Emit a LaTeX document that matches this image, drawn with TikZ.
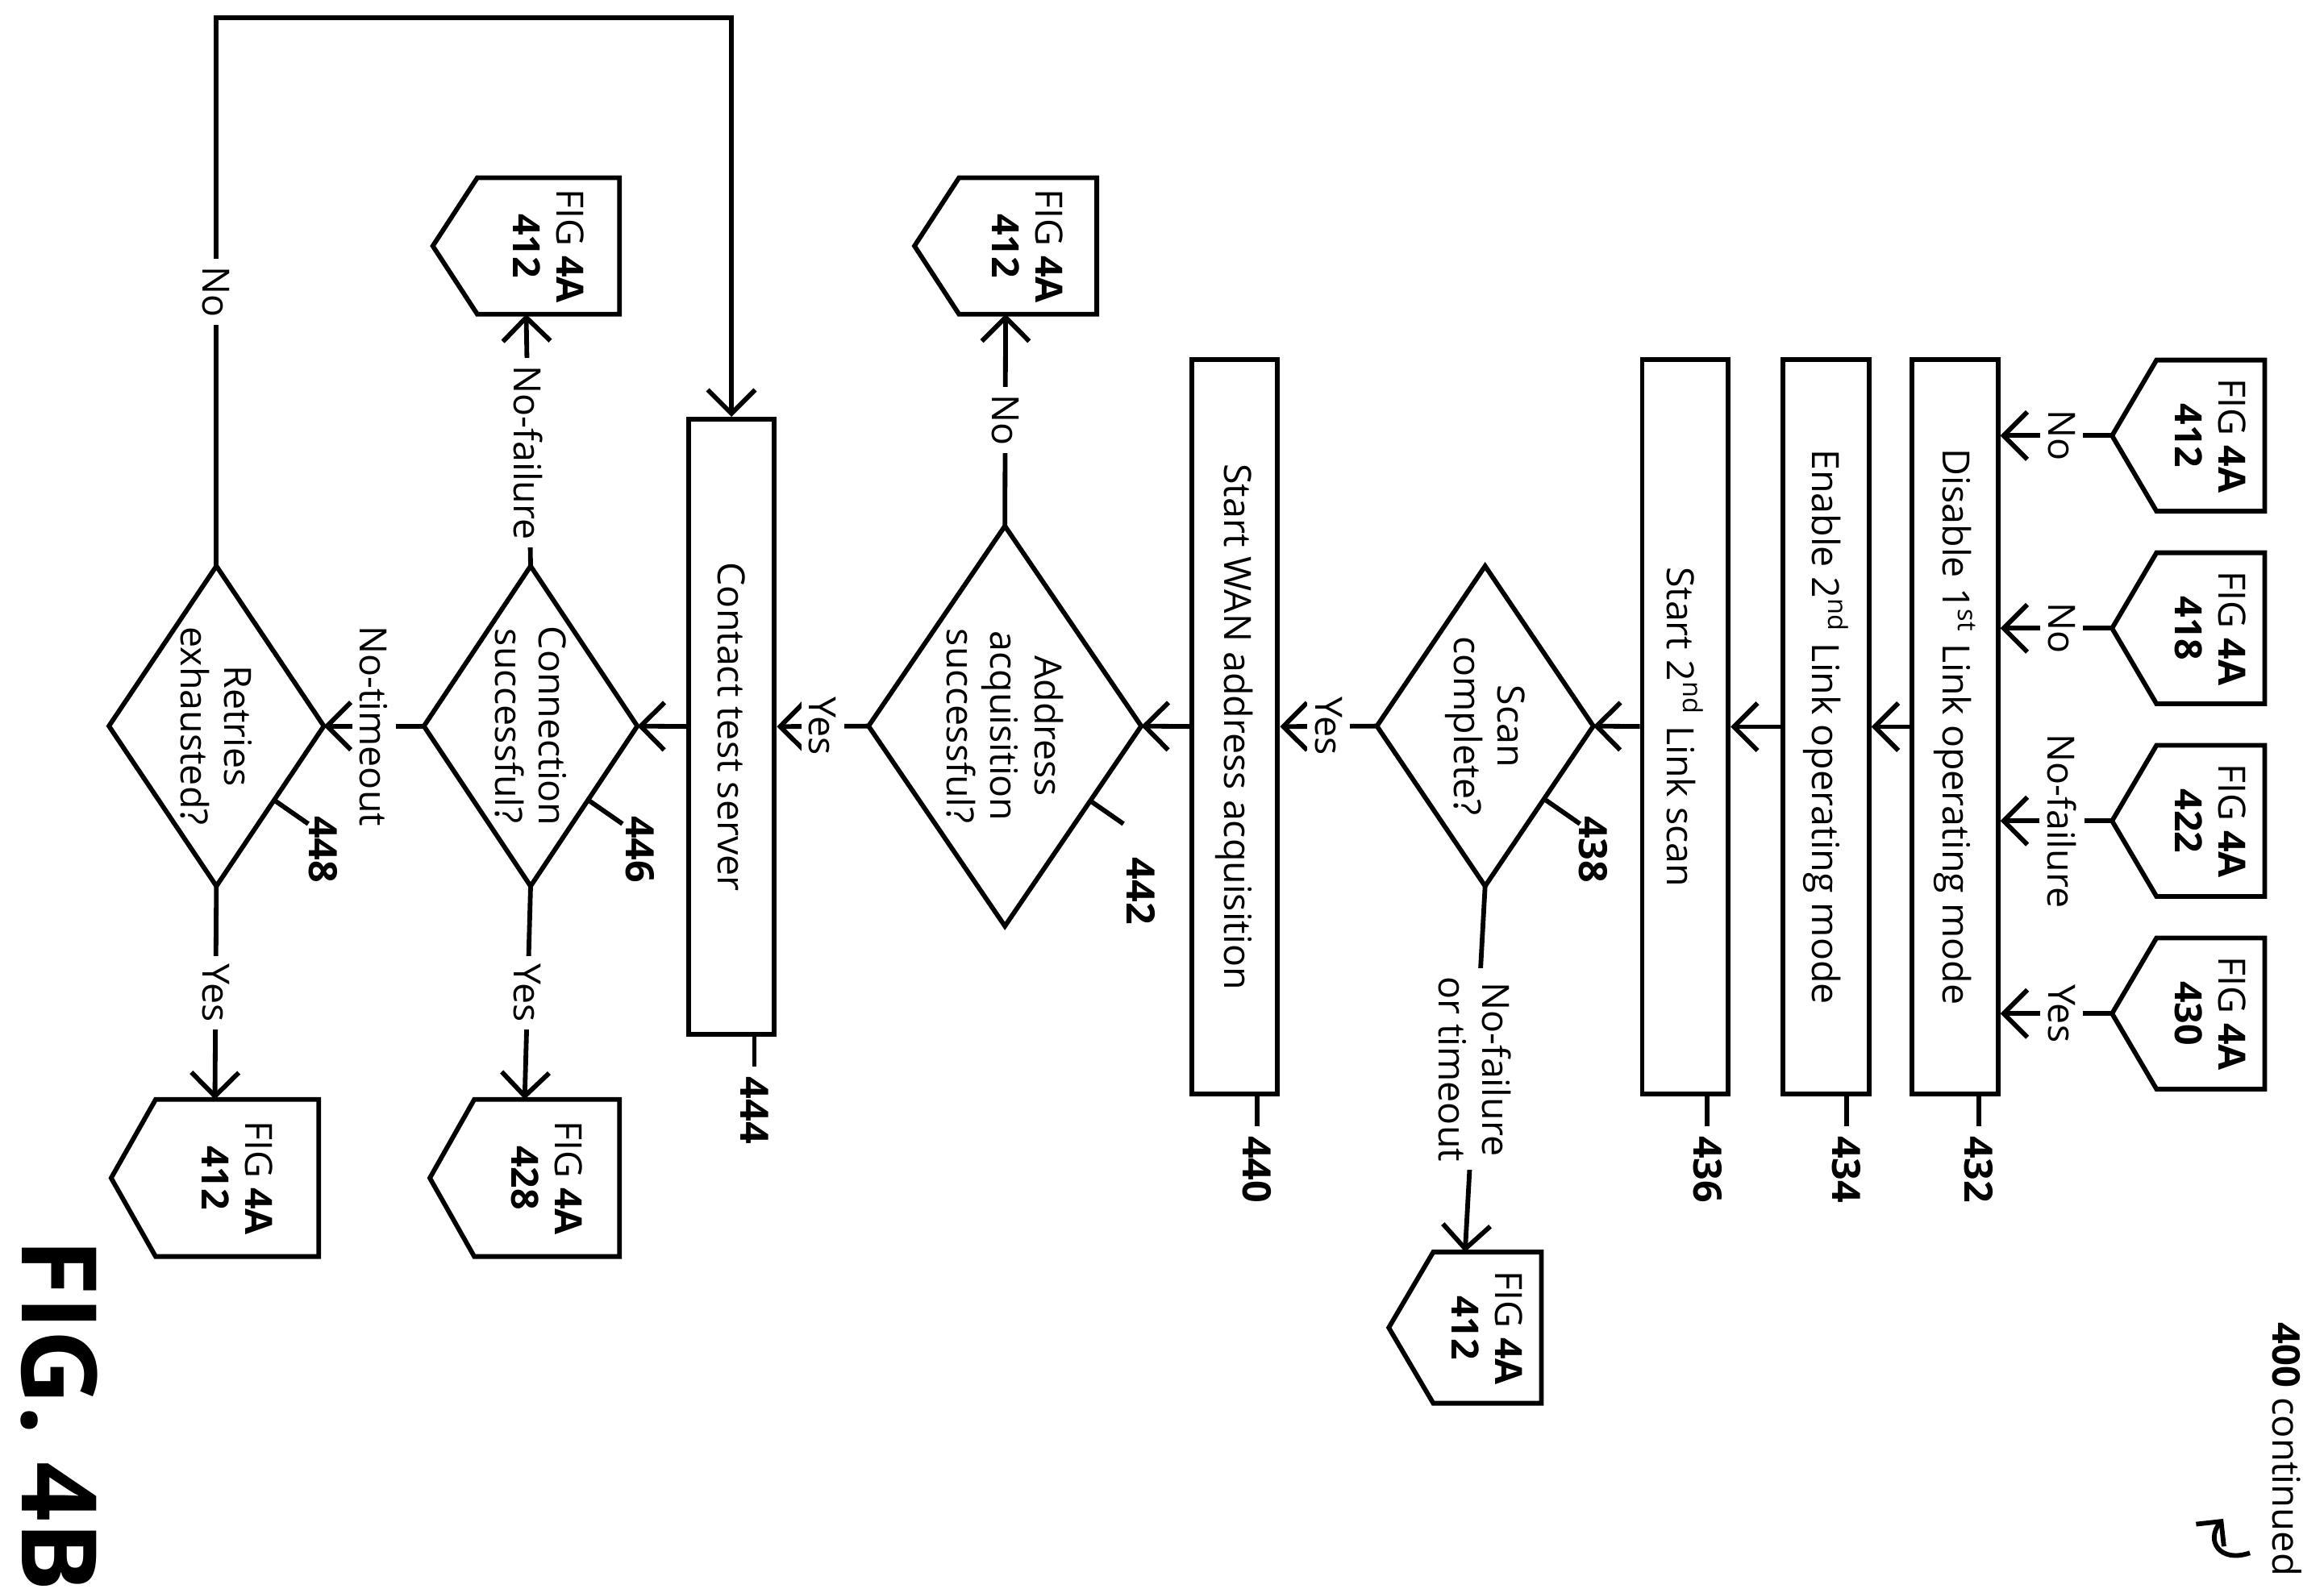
\documentclass[tikz,border=0pt]{standalone}
\usepackage{fontspec}
\setmainfont{Open Sans}
\usetikzlibrary{shapes.geometric,arrows.meta}
\begin{document}
\begin{tikzpicture}[x=0.01cm,y=-0.01cm,
  every node/.style={font=\fontsize{7.2}{8.4}\selectfont},
  line/.style={line width=0.9pt},
  arr/.style={line,-{Straight Barb[length=1.6mm,width=3.2mm]}},
  conn/.style={line},
  rot/.style={rotate=-90,align=center},
  box/.style={line,draw,rot,inner sep=0pt,minimum height=0.58cm},
  dia/.style={line,draw,diamond,rot,inner sep=0pt,outer sep=0pt},
  lbl/.style={rot,fill=white,inner sep=1.5pt},
  ref/.style={rot,anchor=west,font=\fontsize{7.5}{9}\selectfont\bfseries,inner sep=0pt}]
\useasboundingbox (0,0) rectangle (1568,1075);
\newcommand\offL[6]{% name num tipx cy length halfh (points left)
  \draw[conn] (#3,#4) -- ++(30,-#6) -- ++({#5-30},0) -- ++(0,{2*#6}) -- ++({30-#5},0) -- cycle;
  \node[rot] at ({#3+30+(#5-30)/2},#4) {FIG \textbf{4A}\\\textbf{#2}};
  \coordinate (#1) at (#3,#4);
  \coordinate (#1t) at ({#3+#5/2},{#4-#6});
  \coordinate (#1b) at ({#3+#5/2},{#4+#6});}
\newcommand\dianode[6]{% name x y fullw(x) fullh(y) text
  \node[dia,minimum width=#5*0.01cm,minimum height=#4*0.01cm] (#1) at (#2,#3) {};
  \node[rot] at (#2,#3) {#6};}

% off-page inputs
\offL{ca}{412}{1425}{294}{103}{51}
\offL{cb}{418}{1425}{424}{103}{51}
\offL{cc}{422}{1425}{554}{103}{51}
\offL{cd}{430}{1425}{684}{103}{51}

% boxes
\node[box,minimum width=4.95cm] (b432) at (1319,490.5) {Disable 1\textsuperscript{st} Link operating mode};
\node[box,minimum width=4.95cm] (b434) at (1232,490.5) {Enable 2\textsuperscript{nd} Link operating mode};
\node[box,minimum width=4.95cm] (b436) at (1137,490.5) {Start 2\textsuperscript{nd} Link scan};
\dianode{d438}{1002}{490}{146}{216}{Scan\\complete?}
\node[box,minimum width=4.95cm] (b440) at (833,490.5) {Start WAN address acquisition};
\dianode{d442}{678}{490}{184}{270}{Address\\acquisition\\successful?}
\node[box,minimum width=4.15cm] (b444) at (493.5,490.5) {Contact test server};
\dianode{d446}{358}{490}{144}{216}{Connection\\successful?}
\dianode{d448}{146}{490}{145}{216}{Retries\\exhausted?}

% inputs to 432
\draw[arr] (ca) -- (ca -| b432.north) node[lbl,pos=0.45] {No};
\draw[arr] (cb) -- (cb -| b432.north) node[lbl,pos=0.45] {No};
\draw[arr] (cc) -- (cc -| b432.north) node[lbl,pos=0.45] {No-failure};
\draw[arr] (cd) -- (cd -| b432.north) node[lbl,pos=0.45] {Yes};

\draw[arr] (b432) -- (b434);
\draw[arr] (b434) -- (b436);
\draw[arr] (b436) -- (d438.north);
\draw[arr] (d438.south) -- (b440) node[lbl,midway] {Yes};
\offL{c438}{412}{937}{896}{103}{51}
\draw[arr] (d438.east) -- (c438t) node[lbl,midway] {No-failure\\or timeout};
\draw[arr] (b440) -- (d442.north);
\offL{c442}{412}{617}{166}{123}{46}
\draw[arr] (d442.west) -- (c442b) node[lbl,midway] {No};
\draw[arr] (d442.south) -- (b444) node[lbl,midway] {Yes};
\draw[arr] (b444) -- (d446.north);
\offL{c446a}{412}{292}{166}{126}{46}
\draw[arr] (d446.west) -- (c446ab) node[lbl,pos=0.45] {No-failure};
\offL{c446b}{428}{290}{795}{128}{53}
\draw[arr] (d446.east) -- (c446bt) node[lbl,midway] {Yes};
\draw[arr] (d446.south) -- (d448.north) node[lbl,midway] {No-timeout};
\offL{c448}{412}{75}{795}{140}{53}
\draw[arr] (d448.east) -- (c448t) node[lbl,midway] {Yes};
\coordinate (loop) at (146,12);
\draw[arr] (d448.west) -- (loop) node[lbl,pos=0.5] {No} -| (b444.west);

% reference numerals
\draw[line] (1335,738) -- (1335,760); \node[ref] at (1335,766) {432};
\draw[line] (1246,738) -- (1246,760); \node[ref] at (1246,766) {434};
\draw[line] (1152,738) -- (1152,760); \node[ref] at (1152,766) {436};
\draw[line] (848,738) -- (848,760);   \node[ref] at (848,766) {440};
\draw[line] (509,698) -- (509,720);   \node[ref] at (509,726) {444};
\draw[line] (1043,540) -- (1066,556); \node[ref] at (1075,550) {438};
\draw[line] (735,540) -- (758,556);   \node[ref] at (770,578) {442};
\draw[line] (397,540) -- (420,556);   \node[ref] at (432,550) {446};
\draw[line] (185,540) -- (208,556);   \node[ref] at (218,550) {448};

\node[rot,anchor=west,font=\fontsize{7.3}{9}\selectfont] at (1543,880) {\textbf{400} continued};
\draw[line,-{Straight Barb[length=1.2mm,width=2.4mm]}] (1518,1048) .. controls (1498,1055) and (1488,1040) .. (1500,1025);
\node[rot,font=\fontsize{20}{22}\selectfont\bfseries] at (40,955) {FIG. 4B};
\end{tikzpicture}
\end{document}
